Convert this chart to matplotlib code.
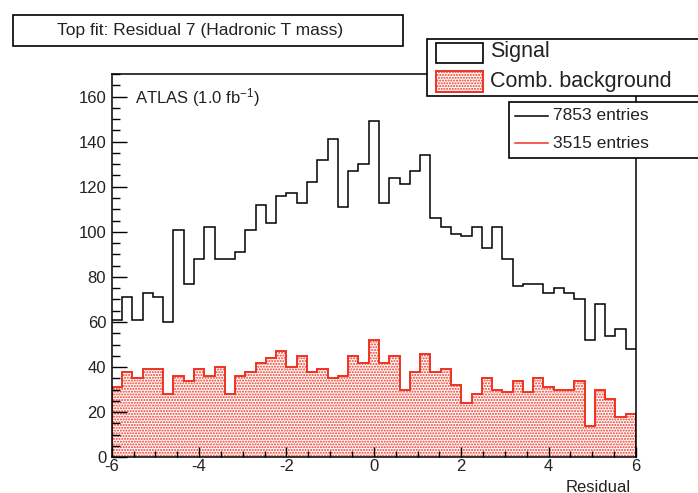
import numpy as np
import matplotlib
matplotlib.use("Agg")
import matplotlib.pyplot as plt
from matplotlib.patches import Rectangle
from matplotlib.lines import Line2D
from matplotlib.ticker import MultipleLocator

plt.rcParams['font.family'] = ['Liberation Sans', 'DejaVu Sans']
plt.rcParams['mathtext.fontset'] = 'custom'
plt.rcParams['mathtext.rm'] = 'Liberation Sans'
plt.rcParams['mathtext.it'] = 'Liberation Sans:italic'
plt.rcParams['axes.unicode_minus'] = False
plt.rcParams['hatch.linewidth'] = 1.0

# residual histogram, 51 bins on [-6, 6]
x_min, x_max = -6.0, 6.0
n_bins = 51
signal = [61, 71, 61, 73, 71, 60, 101, 77, 88, 102, 88, 88, 91, 101, 112, 104,
          116, 117, 113, 122, 132, 141, 111, 127, 130, 149, 113, 124, 121, 127,
          134, 106, 102, 99, 98, 102, 93, 102, 88, 76, 77, 77, 73, 75, 73, 70,
          52, 68, 54, 57, 48]
comb_bkg = [31, 38, 35, 39, 39, 28, 36, 34, 39, 36, 40, 28, 36, 38, 42, 44,
            47, 40, 45, 38, 39, 35, 36, 45, 42, 52, 42, 45, 30, 38, 46, 38,
            39, 32, 24, 28, 35, 30, 29, 34, 29, 35, 31, 30, 30, 34, 14, 30,
            26, 18, 19]
n_signal = 7853
n_bkg = 3515

title = "Top fit: Residual 7 (Hadronic T mass)"
red = "#ee3322"
txt = "#222222"

edges = np.linspace(x_min, x_max, n_bins + 1)

W, H = 698, 493
fig = plt.figure(figsize=(W / 100, H / 100), dpi=100)


def fx(px):
    return px / W


def fy(py):
    return 1 - py / H


ax = fig.add_axes([fx(111.7), fy(457.3), fx(636) - fx(111.7), fy(74) - fy(457.3)])

ax.stairs(comb_bkg, edges, fill=True, facecolor="white", edgecolor=red,
          hatch="......", linewidth=1.4, baseline=0)
ax.stairs(signal, edges, color="black", linewidth=1.1, baseline=None)

ax.set_xlim(x_min, x_max)
ax.set_ylim(0, 170)
ax.xaxis.set_major_locator(MultipleLocator(2))
ax.xaxis.set_minor_locator(MultipleLocator(0.5))
ax.yaxis.set_major_locator(MultipleLocator(20))
ax.yaxis.set_minor_locator(MultipleLocator(5))
ax.tick_params(which="both", direction="in", top=False, right=False,
               labelsize=12, width=1.0, labelcolor=txt)
ax.tick_params(axis="y", which="major", length=10.5, pad=4)
ax.tick_params(axis="y", which="minor", length=5.5)
ax.tick_params(axis="x", which="major", length=7, pad=1.5)
ax.tick_params(axis="x", which="minor", length=4)
for sp in ax.spines.values():
    sp.set_linewidth(1.1)

ax.text(fx(135), fy(98), r"ATLAS (1.0 fb$^{-1}$)", transform=fig.transFigure,
        ha="left", va="center", fontsize=12, color=txt)

fig.text(fx(631), fy(487), "Residual", ha="right", va="center", fontsize=12, color=txt)

# title box
fig.add_artist(Rectangle((fx(13), fy(46)), fx(403) - fx(13), fy(15) - fy(46),
                         transform=fig.transFigure, facecolor="white",
                         edgecolor="black", linewidth=1.2))
fig.text(fx(200), fy(30.5), title, ha="center", va="center", fontsize=12.5, color=txt)

# sample legend
fig.add_artist(Rectangle((fx(426.7), fy(96)), fx(720) - fx(426.7), fy(39.3) - fy(96),
                         transform=fig.transFigure, facecolor="white",
                         edgecolor="black", linewidth=1.2))
fig.add_artist(Rectangle((fx(436), fy(63)), fx(483) - fx(436), fy(43) - fy(63),
                         transform=fig.transFigure, facecolor="white",
                         edgecolor="black", linewidth=1.2))
fig.add_artist(Rectangle((fx(436), fy(92)), fx(483) - fx(436), fy(71) - fy(92),
                         transform=fig.transFigure, facecolor="white",
                         edgecolor=red, hatch="......", linewidth=1.4))
fig.text(fx(490), fy(52), "Signal", ha="left", va="center", fontsize=15.5, color=txt)
fig.text(fx(490), fy(81), "Comb. background", ha="left", va="center", fontsize=15.5, color=txt)

# entries legend
fig.add_artist(Rectangle((fx(509.3), fy(158.3)), fx(720) - fx(509.3), fy(101.7) - fy(158.3),
                         transform=fig.transFigure, facecolor="white",
                         edgecolor="black", linewidth=1.2))
fig.add_artist(Line2D([fx(515), fx(548)], [fy(116), fy(116)],
                      transform=fig.transFigure, color="black", linewidth=1.1))
fig.add_artist(Line2D([fx(515), fx(548)], [fy(143), fy(143)],
                      transform=fig.transFigure, color=red, linewidth=1.1))
fig.text(fx(553), fy(115.5), f"{n_signal} entries", ha="left", va="center",
         fontsize=12.5, color=txt)
fig.text(fx(553), fy(143.5), f"{n_bkg} entries", ha="left", va="center",
         fontsize=12.5, color=txt)

fig.savefig("out.png", dpi=100)
